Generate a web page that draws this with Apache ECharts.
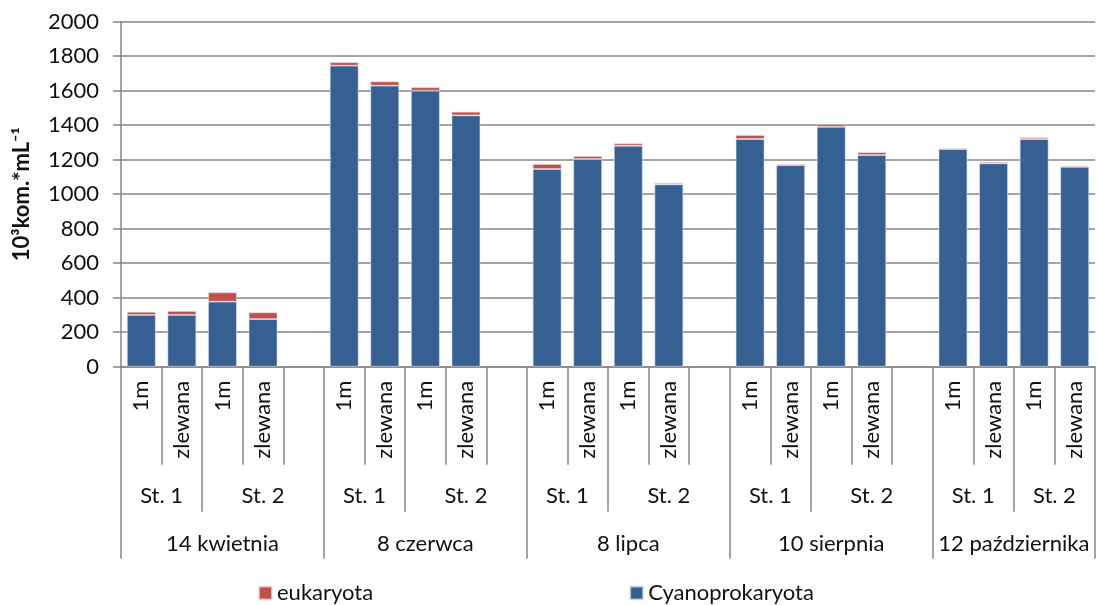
<!DOCTYPE html>
<html>
<head>
<meta charset="utf-8">
<script src="https://cdn.jsdelivr.net/npm/echarts@6/dist/echarts.min.js"></script>
<style>
  html, body { margin: 0; padding: 0; background: #fff; }
  #chart { width: 1098px; height: 605px; }
</style>
</head>
<body>
<div id="chart"></div>
<script>
// Sampling dates, stations and depths
const dates = ['14 kwietnia', '8 czerwca', '8 lipca', '10 sierpnia', '12 października'];
const stations = ['St. 1', 'St. 2'];
const depths = ['1m', 'zlewana'];

// Cell counts (10^3 cells per mL), four samples per date: St.1 1m, St.1 zlewana, St.2 1m, St.2 zlewana
const cyanoprokaryota = [
  300, 300, 377, 276,
  1745, 1629, 1600, 1457,
  1146, 1204, 1281, 1057,
  1320, 1168, 1390, 1227,
  1262, 1179, 1320, 1158
];
const eukaryota = [
  18, 23, 54, 39,
  20, 25, 20, 21,
  29, 17, 14, 8,
  23, 7, 15, 16,
  6, 8, 10, 7
];

const yTicks = { min: 0, max: 2000, interval: 200 };

// Build the slot axis: four samples per date followed by an empty spacer (none after the last date)
const slotLabels = [];
const cyanoSlots = [];
const eukSlots = [];
dates.forEach((d, g) => {
  for (let k = 0; k < 4; k++) {
    slotLabels.push(depths[k % 2]);
    cyanoSlots.push(cyanoprokaryota[g * 4 + k]);
    eukSlots.push(eukaryota[g * 4 + k]);
  }
  if (g < dates.length - 1) {
    slotLabels.push('');
    cyanoSlots.push(null);
    eukSlots.push(null);
  }
});
const nSlots = slotLabels.length;

// Half-slot positions for the station and date rows (boundaryGap off, 2 points per slot)
const nHalf = nSlots * 2 + 1;
const stationRow = new Array(nHalf).fill('');
const dateRow = new Array(nHalf).fill('');
const stationEdges = new Set();
const dateEdges = new Set([0, nHalf - 1]);
dates.forEach((d, g) => {
  const s = g * 5;
  const last = g === dates.length - 1;
  const end = last ? s + 4 : s + 5;
  stationRow[2 * s + 2] = stations[0];
  stationRow[s + 2 + end] = stations[1];
  dateRow[s + end] = d;
  stationEdges.add(2 * (s + 2));
  dateEdges.add(2 * s);
});

const axisGray = '#868686';
const textColor = '#111';
const font = 'Lato, "Noto Sans", sans-serif';

const chart = echarts.init(document.getElementById('chart'), null, { renderer: 'canvas' });
chart.setOption({
  animation: false,
  textStyle: { fontFamily: font },
  grid: { left: 121, right: 0, top: 21.7, bottom: 238.3, containLabel: false },
  legend: {
    data: ['eukaryota', 'Cyanoprokaryota'],
    left: 258,
    top: 582,
    padding: 0,
    icon: 'rect',
    itemWidth: 13,
    itemHeight: 13,
    itemGap: 256,
    textStyle: { fontFamily: font, fontSize: 22, color: textColor }
  },
  xAxis: [
    {
      type: 'category',
      data: slotLabels,
      position: 'bottom',
      axisLine: { lineStyle: { color: axisGray, width: 1.5 } },
      axisTick: { show: true, length: 98, interval: 0, lineStyle: { color: axisGray, width: 1.5 } },
      axisLabel: { interval: 0, rotate: 90, margin: 14, fontSize: 22, color: textColor, fontFamily: font }
    },
    {
      type: 'category',
      data: stationRow,
      boundaryGap: false,
      position: 'bottom',
      axisLine: { show: false },
      axisTick: {
        show: true, length: 145,
        interval: (i) => stationEdges.has(i),
        lineStyle: { color: axisGray, width: 1.5 }
      },
      axisLabel: { interval: 0, margin: 118, fontSize: 22, color: textColor, fontFamily: font }
    },
    {
      type: 'category',
      data: dateRow,
      boundaryGap: false,
      position: 'bottom',
      axisLine: { show: false },
      axisTick: {
        show: true, length: 192,
        interval: (i) => dateEdges.has(i),
        lineStyle: { color: axisGray, width: 1.5 }
      },
      axisLabel: { interval: 0, margin: 166, fontSize: 22, color: textColor, fontFamily: font }
    }
  ],
  yAxis: {
    type: 'value',
    min: yTicks.min,
    max: yTicks.max,
    interval: yTicks.interval,
    name: '10³kom.*mL⁻¹',
    nameLocation: 'middle',
    nameGap: 88,
    nameTextStyle: { fontSize: 22, fontWeight: 'bold', color: textColor, fontFamily: font },
    axisLine: { show: true, lineStyle: { color: axisGray, width: 1.5 } },
    axisTick: { show: true, length: 8, lineStyle: { color: axisGray, width: 1.5 } },
    axisLabel: { margin: 22, fontSize: 22, color: textColor, fontFamily: font, formatter: (v) => String(v) },
    splitLine: { lineStyle: { color: axisGray, width: 1.5 } }
  },
  series: [
    {
      name: 'Cyanoprokaryota',
      type: 'bar',
      stack: 'total',
      xAxisIndex: 0,
      data: cyanoSlots,
      barCategoryGap: '29%',
      itemStyle: { color: '#376092', borderColor: 'rgba(220,228,240,0.7)', borderWidth: 0.8 }
    },
    {
      name: 'eukaryota',
      type: 'bar',
      stack: 'total',
      xAxisIndex: 0,
      data: eukSlots,
      barCategoryGap: '29%',
      itemStyle: { color: '#c0504d', borderColor: 'rgba(240,220,220,0.7)', borderWidth: 0.8 }
    }
  ]
});
</script>
</body>
</html>
